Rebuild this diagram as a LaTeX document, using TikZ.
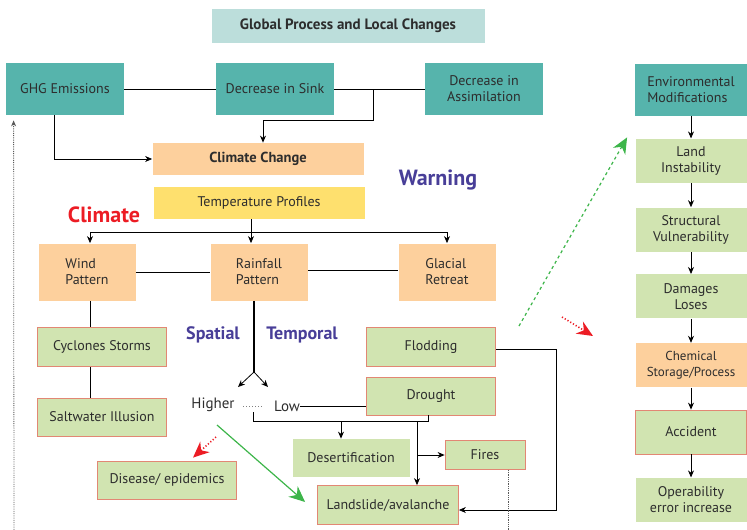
\documentclass[tikz,border=0pt]{standalone}
\usepackage{fontspec}
\setmainfont{PT Sans}
\usetikzlibrary{arrows.meta, positioning, calc}

\definecolor{tealc}{RGB}{86,180,172}
\definecolor{titlec}{RGB}{188,222,219}
\definecolor{peachc}{RGB}{253,208,157}
\definecolor{yellowc}{RGB}{254,224,110}
\definecolor{greenc}{RGB}{209,228,177}
\definecolor{borderc}{RGB}{226,135,116}
\definecolor{textc}{RGB}{45,45,45}
\definecolor{purplec}{RGB}{72,62,152}
\definecolor{redc}{RGB}{236,28,36}
\definecolor{garrow}{RGB}{61,181,74}

\tikzset{
	box/.style={rectangle, inner sep=0pt, align=center, text=textc, font=\fontsize{14}{16}\selectfont},
	teal/.style={box, fill=tealc},
	peach/.style={box, fill=peachc},
	greenb/.style={box, fill=greenc},
	greenr/.style={box, fill=greenc, draw=borderc, line width=0.8pt},
	label/.style={font=\fontsize{22}{24}\selectfont\bfseries},
	sublabel/.style={text=purplec, font=\fontsize{18}{20}\selectfont\bfseries},
	arr/.style={-{Stealth[length=7pt,width=6pt]}, line width=0.8pt},
	big/.style={-{Stealth[length=16pt,width=14pt]}, line width=1.2pt},
}

\begin{document}
\begin{tikzpicture}[x=1pt, y=-1pt, line width=0.8pt]
	\useasboundingbox (0,0) rectangle (747,530);

	\node[box, fill=titlec, minimum width=273pt, minimum height=34pt, font=\fontsize{15}{17}\selectfont\bfseries] (T) at (348,26) {Global Process and Local Changes};

	\node[teal, minimum width=118pt, minimum height=52pt] (GHG) 	at (65,89)	{GHG Emissions};
	\node[teal, minimum width=118pt, minimum height=52pt] (Sink) 	at (275,89)	{Decrease in Sink};
	\node[teal, minimum width=118pt, minimum height=52pt] (Assim) 	at (484,89)	{Decrease in\\Assimilation};
	\node[teal, minimum width=112pt, minimum height=52pt, align=left] (Env) 	at (691,90)	{Environmental\\Modifications};

	\node[peach, minimum width=211pt, minimum height=32pt, font=\fontsize{14.5}{16}\selectfont\bfseries] (CC) at (258,159) {Climate Change};
	\node[box, fill=yellowc, minimum width=211pt, minimum height=32pt] (TP) at (259,203) {Temperature Profiles};

	\node[label, text=redc] (Cl) 	at (104,215) {Climate};
	\node[label, text=purplec] (W) 	at (438,180) {Warning};

	\node[peach, minimum width=97pt, minimum height=57pt, align=left] (Wind) 	at (87,272)		{Wind\\Pattern};
	\node[peach, minimum width=97pt, minimum height=57pt, align=left] (Rain) 	at (259,272)	{Rainfall\\Pattern};
	\node[peach, minimum width=97pt, minimum height=57pt, align=left] (Glac) 	at (447,272)	{Glacial\\Retreat};

	\node[greenr, minimum width=129pt, minimum height=39pt] (Cyc) 	at (102,347)	{Cyclones Storms};
	\node[greenr, minimum width=129pt, minimum height=38pt] (Salt) 	at (102,417)	{Saltwater Illusion};
	\node[greenr, minimum width=129pt, minimum height=39pt] (Flod) 	at (431,347)	{Flodding};
	\node[greenr, minimum width=129pt, minimum height=38pt] (Dr) 	at (431,396)	{Drought};

	\node[sublabel] (Sp) at (213,335) {Spatial};
	\node[sublabel] (Te) at (302,335) {Temporal};

	\node[box, font=\fontsize{15}{17}\selectfont] (Hi) at (213,405) {Higher};
	\node[box, font=\fontsize{15}{17}\selectfont] (Lo) at (287,406) {Low};

	\node[greenb, minimum width=117pt, minimum height=38pt] (Des) 	at (351,458)	{Desertification};
	\node[greenr, minimum width=80pt, minimum height=29pt] (Fi) 	at (485,455)	{Fires};
	\node[greenr, minimum width=141pt, minimum height=39pt] (Land) 	at (388,505)	{Landslide/avalanche};
	\node[greenr, minimum width=139pt, minimum height=38pt] (Dis) 	at (167,480)	{Disease/ epidemics};

	\node[greenb, minimum width=111pt, minimum height=44pt, below=22pt of Env] (LI)	{Land\\Instability};
	\node[greenb, minimum width=111pt, minimum height=44pt, below=24pt of LI] (SV) 	{Structural\\Vulnerability};
	\node[greenb, minimum width=111pt, minimum height=44pt, below=22pt of SV] (DL) 	{Damages\\Loses};
	\node[peach, minimum width=111pt, minimum height=44pt, below=24pt of DL, font=\fontsize{13}{16}\selectfont] (CS) 	{Chemical\\Storage/Process};
	\node[greenr, minimum width=111pt, minimum height=44pt, below=22pt of CS] (Acc) {Accident};
	\node[greenb, minimum width=111pt, minimum height=44pt, below=23pt of Acc] (OE) {Operability\\error increase};

	% top block
	\draw (GHG.east) -- (Sink.west);
	\draw (Sink.east) -- (Assim.west);
	\draw[arr] ($(Sink.east)!0.43!(Assim.west)$) -- ++(0,31) -| ([xshift=5pt]CC.north);
	\draw[arr] ([xshift=-11pt]GHG.south) |- (CC.west);

	\coordinate (TB) at (251,232);
	\draw[arr] ([xshift=-8pt]TP.south) -- ([xshift=-8pt]Rain.north);
	\draw[arr] (TB) -| ([xshift=3pt]Wind.north);
	\draw[arr] (TB) -| (Glac.north);
	\draw (Wind.east) -- (Rain.west);
	\draw ([yshift=2pt]Rain.east) -- ([yshift=2pt]Glac.west);
	\draw ([xshift=3pt]Wind.south) -- ([xshift=3pt]Wind.south |- Cyc.north);
	\draw ([xshift=3pt]Wind.south |- Cyc.south) -- ([xshift=3pt]Wind.south |- Salt.north);

	% rainfall split
	\coordinate (RS) at (254,372);
	\draw[line width=1.6pt] ([xshift=-5pt]Rain.south) -- (RS);
	\draw[arr] (RS) -- ++(-16,15);
	\draw[arr] (RS) -- ++(14,15);
	\draw[gray, dotted, line width=1pt] (243,406) -- (263,406);
	\draw (Lo.east) -- (Lo.east -| Dr.west);

	\coordinate (B) at (253,421);
	\coordinate (BL) at (417,421);
	\draw (253,412) -- (B) -| ([xshift=-3pt]Dr.south);
	\draw[arr] ([xshift=-10pt]Des.north |- B) -- ([xshift=-10pt]Des.north);
	\draw[arr] (BL) -- (BL |- Land.north);
	\draw[arr] (BL |- Fi.west) -- (Fi.west);
	\draw[arr] ([yshift=-2pt]Flod.east) -- ++(60,0) |- ([yshift=-5pt]Land.east);

	% right column
	\foreach \a/\b in {Env/LI, LI/SV, SV/DL, DL/CS, CS/Acc, Acc/OE}
		\draw[arr] (\a) -- (\b);

	% coloured arrows
	\draw[big, garrow, dashed] (519,326) -- ([xshift=-8pt,yshift=1pt]LI.north west);
	\draw[big, garrow] (217,425) -- ([xshift=-12pt,yshift=3pt]Land.west);
	\draw[big, redc, dotted, line width=1.6pt] (216,437) -- ([xshift=26pt,yshift=3pt]Dis.north);
	\draw[big, redc, dotted, line width=1.6pt] (562,317) -- (593,336);

	% dotted feedback
	\draw[densely dotted, gray!70!black, -{Stealth[length=6pt,width=5pt]}] (14,530) -- ([xshift=8pt,yshift=-5pt]GHG.south west);
	\draw[densely dotted, gray!70!black] ([xshift=23pt]Fi.south) -- ++(0,60);
\end{tikzpicture}
\end{document}
